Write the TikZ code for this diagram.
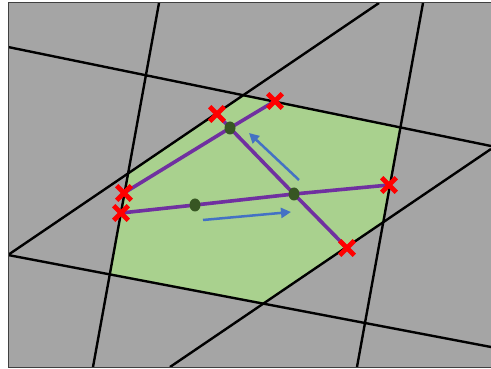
\documentclass[tikz,border=0pt]{standalone}
\usetikzlibrary{shapes.misc,shapes.geometric,arrows.meta}
\definecolor{bggray}{HTML}{A5A5A5}
\definecolor{cellgreen}{HTML}{A9D18E}
\definecolor{pathpurple}{HTML}{7030A0}
\definecolor{dotgreen}{HTML}{375623}
\definecolor{arrowblue}{HTML}{4472C4}
\tikzset{
  gridline/.style={black, line width=2.4pt},
  route/.style={pathpurple, line width=3.6pt, line join=round},
  flow/.style={arrowblue, line width=2.5pt, -{Triangle[length=10pt,width=10pt]}},
  xmark/.style={cross out, draw=red, line width=4.6pt, minimum size=10pt, inner sep=0pt},
  vdot/.style={ellipse, fill=dotgreen, minimum width=11pt, minimum height=13pt, inner sep=0pt},
}
\begin{document}
\begin{tikzpicture}[x=1pt,y=-1pt]
\useasboundingbox (0,0) rectangle (491,369);
% frame
\fill[bggray] (8,3) rectangle (491,367);
% line end points
\coordinate (A1) at (159,3);  \coordinate (A2) at (93,367);
\coordinate (B1) at (423,3);  \coordinate (B2) at (357,367);
\coordinate (C1) at (8,47);   \coordinate (C2) at (491,146);
\coordinate (D1) at (8,255);  \coordinate (D2) at (491,347);
\coordinate (E1) at (8,255);  \coordinate (E2) at (379,3);
\coordinate (F1) at (170,367); \coordinate (F2) at (491,149);
% green cell
\fill[cellgreen]
  (intersection of E1--E2 and C1--C2) --
  (intersection of C1--C2 and B1--B2) --
  (intersection of B1--B2 and F1--F2) --
  (intersection of F1--F2 and D1--D2) --
  (intersection of D1--D2 and A1--A2) --
  (intersection of A1--A2 and E1--E2) -- cycle;
% grid lines
\begin{scope}
\clip (8,3) rectangle (491,367);
\draw[gridline] (A1) -- (A2);
\draw[gridline] (B1) -- (B2);
\draw[gridline] (C1) -- (C2);
\draw[gridline] (D1) -- (D2);
\draw[gridline] (E1) -- (E2);
\draw[gridline] (F1) -- (F2);
\end{scope}
% frame border
\draw[black!75, line width=1pt] (491,3) -- (8,3) -- (8,367) -- (491,367);
% points
\coordinate (x1) at (217,114);
\coordinate (x2) at (275,101);
\coordinate (x3) at (124,193);
\coordinate (x4) at (121,213);
\coordinate (x5) at (389,185);
\coordinate (x6) at (347,248);
\coordinate (d1) at (230,128);
\coordinate (d2) at (294,194);
\coordinate (d3) at (195,205);
% purple routes
\draw[route] (x3) -- (d1) -- (x2);
\draw[route] (x1) -- (d1) -- (d2) -- (x6);
\draw[route] (x4) -- (d3) -- (d2) -- (x5);
% blue arrows
\coordinate (a1s) at (299,180); \coordinate (a1e) at (249,133);
\coordinate (a2s) at (203,220); \coordinate (a2e) at (291,212);
\draw[flow] (a1s) -- (a1e);
\draw[flow] (a2s) -- (a2e);
% dots
\node[vdot] (n1) at (d1) {};
\node[vdot] (n2) at (d2) {};
\node[vdot] (n3) at (d3) {};
% crosses
\node[xmark] (m1) at (x1) {};
\node[xmark] (m2) at (x2) {};
\node[xmark] (m3) at (x3) {};
\node[xmark] (m4) at (x4) {};
\node[xmark] (m5) at (x5) {};
\node[xmark] (m6) at (x6) {};
\end{tikzpicture}
\end{document}
